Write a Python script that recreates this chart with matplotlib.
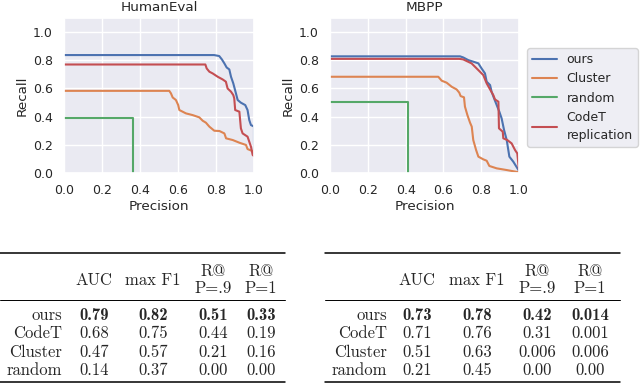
import matplotlib
matplotlib.use("Agg")
import matplotlib.pyplot as plt
import seaborn as sns

sns.set_theme(style="darkgrid")

# precision / recall
he_ours_p = [0.0, 0.79, 0.817, 0.831, 0.844, 0.856, 0.870, 0.879, 0.891, 0.905, 0.914, 0.931, 0.954, 0.966, 0.975, 0.984, 1.0, 1.0]
he_ours_r = [0.837, 0.837, 0.83, 0.806, 0.778, 0.749, 0.735, 0.683, 0.636, 0.565, 0.518, 0.499, 0.482, 0.447, 0.376, 0.340, 0.33, 0.14]
he_clus_p = [0.0, 0.554, 0.563, 0.572, 0.589, 0.601, 0.607, 0.642, 0.677, 0.712, 0.730, 0.747, 0.765, 0.791, 0.818, 0.844, 0.853, 0.888, 0.923, 0.958, 0.966, 0.984, 1.0]
he_clus_r = [0.583, 0.583, 0.565, 0.536, 0.518, 0.482, 0.447, 0.423, 0.411, 0.395, 0.371, 0.357, 0.329, 0.300, 0.298, 0.281, 0.246, 0.234, 0.215, 0.199, 0.170, 0.160, 0.151]
he_rand_p = [0.0, 0.362, 0.362]
he_rand_r = [0.39, 0.39, 0.0]
he_codet_p = [0.0, 0.744, 0.751, 0.765, 0.782, 0.809, 0.835, 0.852, 0.861, 0.879, 0.891, 0.896, 0.901, 0.923, 0.931, 0.940, 0.966, 0.984, 0.993, 1.0]
he_codet_r = [0.77, 0.77, 0.742, 0.719, 0.707, 0.683, 0.664, 0.648, 0.600, 0.577, 0.553, 0.530, 0.447, 0.435, 0.317, 0.281, 0.258, 0.187, 0.128, 0.12]

mb_ours_p = [0.0, 0.688, 0.705, 0.732, 0.758, 0.785, 0.802, 0.820, 0.829, 0.847, 0.855, 0.868, 0.882, 0.896, 0.908, 0.921, 0.935, 0.949, 0.970, 1.0]
mb_ours_r = [0.828, 0.828, 0.82, 0.801, 0.79, 0.778, 0.742, 0.707, 0.648, 0.624, 0.577, 0.530, 0.482, 0.435, 0.388, 0.305, 0.234, 0.116, 0.080, 0.015]
mb_clus_p = [0.0, 0.573, 0.591, 0.617, 0.644, 0.670, 0.684, 0.691, 0.709, 0.714, 0.727, 0.741, 0.750, 0.758, 0.773, 0.785, 0.811, 0.829, 0.843, 0.882, 0.935, 1.0]
mb_clus_r = [0.683, 0.683, 0.655, 0.641, 0.612, 0.593, 0.570, 0.546, 0.537, 0.471, 0.411, 0.357, 0.329, 0.234, 0.163, 0.116, 0.097, 0.087, 0.050, 0.033, 0.021, 0.005]
mb_rand_p = [0.0, 0.411, 0.411]
mb_rand_r = [0.506, 0.506, 0.0]
mb_codet_p = [0.0, 0.684, 0.705, 0.749, 0.767, 0.785, 0.811, 0.829, 0.847, 0.864, 0.873, 0.891, 0.894, 0.914, 0.917, 0.938, 0.961, 0.979, 0.991, 1.0]
mb_codet_r = [0.81, 0.81, 0.806, 0.778, 0.754, 0.730, 0.695, 0.636, 0.593, 0.553, 0.522, 0.506, 0.317, 0.293, 0.246, 0.234, 0.210, 0.163, 0.139, 0.02]

titles = ["HumanEval", "MBPP"]
names = ["ours", "Cluster", "random", "CodeT\nreplication"]
colors = ["#4C72B0", "#DD8452", "#55A868", "#C44E52"]

# tables
headers = ["AUC", "max F1", "R@\nP=.9", "R@\nP=1"]
row_names = ["ours", "CodeT", "Cluster", "random"]
he_table = [["0.79", "0.82", "0.51", "0.33"],
            ["0.68", "0.75", "0.44", "0.19"],
            ["0.47", "0.57", "0.21", "0.16"],
            ["0.14", "0.37", "0.00", "0.00"]]
mb_table = [["0.73", "0.78", "0.42", "0.014"],
            ["0.71", "0.76", "0.31", "0.001"],
            ["0.51", "0.63", "0.006", "0.006"],
            ["0.21", "0.45", "0.00", "0.00"]]

fig = plt.figure(figsize=(6.4, 3.83), dpi=100)
ax1 = fig.add_axes([64/640, 1-173/383, 190/640, 155/383])
ax2 = fig.add_axes([330/640, 1-173/383, 189/640, 155/383])

curves = [
    [(he_ours_p, he_ours_r), (he_clus_p, he_clus_r), (he_rand_p, he_rand_r), (he_codet_p, he_codet_r)],
    [(mb_ours_p, mb_ours_r), (mb_clus_p, mb_clus_r), (mb_rand_p, mb_rand_r), (mb_codet_p, mb_codet_r)],
]
for ax, title, cs in zip([ax1, ax2], titles, curves):
    for (p, r), n, c in zip(cs, names, colors):
        ax.plot(p, r, color=c, lw=1.5, label=n)
    ax.set_xlim(0, 1)
    ax.set_ylim(0, 1.1)
    ax.set_xticks([0, 0.2, 0.4, 0.6, 0.8, 1.0])
    ax.set_yticks([0, 0.2, 0.4, 0.6, 0.8, 1.0])
    ax.tick_params(labelsize=9, pad=2)
    ax.set_xlabel("Precision", fontsize=9.7, labelpad=2)
    ax.set_ylabel("Recall", fontsize=9.7, labelpad=3)
    ax.set_title(title, fontsize=9.7, pad=5)

h, l = ax2.get_legend_handles_labels()
leg = fig.legend(h, l, loc="upper left", bbox_to_anchor=(527/640, 1-48/383), borderaxespad=0,
                 fontsize=9, handlelength=2.0, labelspacing=0.5, handletextpad=0.75)
for t in leg.get_texts():
    t.set_linespacing(1.5)

# table area in pixel units
tx = fig.add_axes([0, 0, 1, 1], zorder=-1)
tx.set_xlim(0, 640)
tx.set_ylim(383, 0)
tx.axis("off")

def draw_table(x0, x1, label_x, col_x, rows):
    tx.plot([x0, x1], [253, 253], color="black", lw=1.1)
    tx.plot([x0, x1], [300, 300], color="black", lw=0.7)
    tx.plot([x0, x1], [382, 382], color="black", lw=1.1)
    for cx, hd in zip(col_x, headers):
        parts = hd.split("\n")
        if len(parts) == 1:
            tx.text(cx, 279, parts[0], ha="center", va="center_baseline", family="cmr10", fontsize=12)
        else:
            tx.text(cx, 270, parts[0], ha="center", va="center_baseline", family="cmr10", fontsize=12)
            tx.text(cx, 287, parts[1], ha="center", va="center_baseline", family="cmr10", fontsize=12)
    for i, (rn, vals) in enumerate(zip(row_names, rows)):
        y = 313.5 + 18.6 * i
        tx.text(label_x, y, rn, ha="right", va="center_baseline", family="cmr10", fontsize=12)
        for cx, v in zip(col_x, vals):
            tx.text(cx, y, v, ha="center", va="center_baseline",
                    family="cmb10" if i == 0 else "cmr10", fontsize=12)

draw_table(0, 285, 62, [94, 153, 213, 261], he_table)
draw_table(325, 620, 387, [417, 477, 537, 590], mb_table)

fig.savefig("out.png", dpi=100)
